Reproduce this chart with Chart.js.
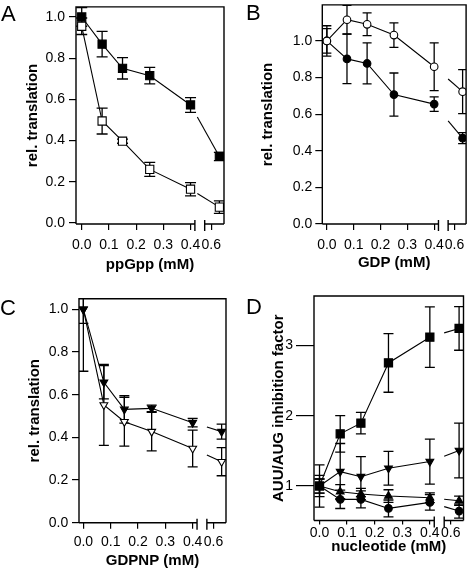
<!DOCTYPE html>
<html>
<head>
<meta charset="utf-8">
<script src="https://cdn.jsdelivr.net/npm/chart.js@4.4.0/dist/chart.umd.min.js"></script>
<style>
  body { margin: 0; background: #fff; }
  #wrap { position: relative; width: 471px; height: 570px; overflow: hidden; }
  canvas { position: absolute; }
  .lbl { position: absolute; font: 22px "Liberation Sans", Arial, sans-serif; line-height: 22px; color: #000; }
</style>
</head>
<body>
<div id="wrap">
  <canvas id="cA" width="235" height="285" style="left:0px;top:0px"></canvas>
  <canvas id="cB" width="236" height="285" style="left:235px;top:0px"></canvas>
  <canvas id="cC" width="235" height="285" style="left:0px;top:285px"></canvas>
  <canvas id="cD" width="236" height="285" style="left:235px;top:285px"></canvas>
  <div class="lbl" style="left:1px;top:3px">A</div>
  <div class="lbl" style="left:246px;top:2px">B</div>
  <div class="lbl" style="left:0px;top:297px">C</div>
  <div class="lbl" style="left:246px;top:296px">D</div>
</div>
<script>
// concentrations (mM); the last one sits after the axis break
const xConc = [0, 0.075, 0.15, 0.25, 0.4, 0.63];
const xTickVals = [0, 0.1, 0.2, 0.3, 0.4, 0.6];
const xTickLabels = ['0.0', '0.1', '0.2', '0.3', '0.4', '0.6'];
const relTicks = [0, 0.2, 0.4, 0.6, 0.8, 1.0];
const factorTicks = [1, 2, 3];

// A: ppGpp
const aFilled = [1.0, 0.868, 0.751, 0.715, 0.573, 0.323];
const aFilledErr = [0.045, 0.062, 0.052, 0.04, 0.036, 0.02];
const aOpen = [0.955, 0.495, 0.397, 0.26, 0.164, 0.077];
const aOpenErr = [0.04, 0.063, 0.01, 0.034, 0.032, 0.03];

// B: GDP
const bOpen = [1.0, 1.116, 1.091, 1.032, 0.859, 0.723];
const bOpenErr = [0.083, 0.078, 0.062, 0.067, 0.13, 0.12];
const bFilled = [1.0, 0.902, 0.877, 0.707, 0.655, 0.469];
const bFilledErr = [0.067, 0.135, 0.112, 0.118, 0.04, 0.03];

// C: GDPNP
const cFilled = [1.0, 0.658, 0.531, 0.536, 0.469, 0.427];
const cFilledErr = [0.066, 0.078, 0.064, 0.015, 0.02, 0.035];
const cOpen = [1.0, 0.552, 0.473, 0.427, 0.348, 0.286];
const cOpenErr = [0.29, 0.19, 0.114, 0.09, 0.086, 0.066];

// D: AUU/AUG inhibition factor
const dSquare = [1.0, 1.743, 1.895, 2.752, 3.119, 3.243];
const dSquareErr = [0.3, 0.26, 0.152, 0.417, 0.43, 0.31];
const dDown = [1.0, 1.205, 1.133, 1.252, 1.348, 1.505];
const dDownErr = [0.15, 0.4, 0.286, 0.24, 0.32, 0.39];
const dUp = [1.0, 0.919, 0.886, 0.857, 0.833, 0.79];
const dUpErr = [0.1, 0.1, 0.08, 0.09, 0.07, 0.067];
const dCircle = [1.0, 0.81, 0.81, 0.681, 0.767, 0.643];
const dCircleErr = [0.1, 0.13, 0.12, 0.12, 0.11, 0.1];

// broken x axis: values past the break are shifted left
const breakLo = 0.416, breakHi = 0.452;
function axisX(v) { return v < 0.45 ? v : v - 0.124; }

Chart.defaults.font.family = '"Liberation Sans", Arial, sans-serif';
Chart.defaults.font.size = 14;
Chart.defaults.color = '#000';

const errorBars = {
  id: 'errorBars',
  beforeDatasetsDraw(chart, args, opts) {
    const {ctx, chartArea: a, scales: {x, y}} = chart;
    const half = opts.cap / 2;
    ctx.save();
    ctx.beginPath();
    ctx.rect(a.left, a.top, a.right - a.left, a.bottom - a.top);
    ctx.clip();
    ctx.strokeStyle = '#000';
    ctx.lineWidth = 1.3;
    chart.data.datasets.forEach(ds => {
      ds.data.forEach((pt, i) => {
        const e = ds.errors[i];
        const px = x.getPixelForValue(pt.x);
        const y1 = y.getPixelForValue(pt.y + e);
        const y2 = y.getPixelForValue(pt.y - e);
        ctx.beginPath();
        ctx.moveTo(px, y1); ctx.lineTo(px, y2);
        ctx.moveTo(px - half, y1); ctx.lineTo(px + half, y1);
        ctx.moveTo(px - half, y2); ctx.lineTo(px + half, y2);
        ctx.stroke();
      });
    });
    ctx.restore();
  }
};

const frame = {
  id: 'frame',
  afterDraw(chart) {
    const {ctx, chartArea: a, scales: {x}} = chart;
    const x1 = x.getPixelForValue(breakLo);
    const x2 = x.getPixelForValue(breakHi);
    ctx.save();
    ctx.strokeStyle = '#000';
    ctx.lineWidth = 1.4;
    ctx.beginPath();
    ctx.moveTo(a.left, a.bottom); ctx.lineTo(a.left, a.top);
    ctx.lineTo(a.right, a.top); ctx.lineTo(a.right, a.bottom);
    ctx.moveTo(a.left, a.bottom); ctx.lineTo(x1, a.bottom);
    ctx.moveTo(x2, a.bottom); ctx.lineTo(a.right, a.bottom);
    ctx.moveTo(x1, a.bottom - 4); ctx.lineTo(x1, a.bottom + 7);
    ctx.moveTo(x2, a.bottom - 4); ctx.lineTo(x2, a.bottom + 7);
    ctx.stroke();
    ctx.restore();
  }
};

function makePanel(id, p) {
  const last = xConc.length - 1;
  const datasets = p.series.map(s => ({
    data: s.values.map((v, i) => ({x: axisX(xConc[i]), y: v})),
    errors: s.errors,
    borderColor: '#000',
    borderWidth: 1.1,
    pointStyle: s.style,
    rotation: s.rot || 0,
    pointRadius: s.r,
    pointHoverRadius: s.r,
    pointBackgroundColor: s.fill,
    pointBorderColor: '#000',
    pointBorderWidth: 1.1,
    segment: {
      borderDash: ctx => {
        if (ctx.p1DataIndex !== last) return undefined;
        const gx = ctx.chart.scales.x.getPixelForValue(p.gapEnd);
        const dx = ctx.p1.x - ctx.p0.x, dy = ctx.p1.y - ctx.p0.y;
        const len = Math.hypot(dx, dy);
        return [0, (gx - ctx.p0.x) / dx * len, len + 10];
      }
    }
  }));

  return new Chart(document.getElementById(id), {
    type: 'line',
    data: {datasets},
    options: {
      responsive: false,
      animation: false,
      events: [],
      layout: {padding: {top: p.area.t - p.box.y, right: p.box.x + p.box.w - p.area.r, left: 0, bottom: 0}},
      plugins: {
        legend: {display: false},
        tooltip: {enabled: false},
        errorBars: {cap: p.cap}
      },
      scales: {
        x: {
          type: 'linear',
          min: p.xMin, max: p.xMax,
          afterBuildTicks: s => { s.ticks = xTickVals.map(v => ({value: axisX(v)})); },
          afterFit: s => { s.height = p.box.y + p.box.h - p.area.b; s.paddingLeft = 0; s.paddingRight = 0; },
          ticks: {autoSkip: false, maxRotation: 0, padding: p.xTickPad, callback: (v, i) => xTickLabels[i]},
          grid: {drawOnChartArea: false, tickLength: p.xTickLen, color: '#000', lineWidth: 1.2},
          border: {display: false},
          title: {display: true, text: p.xTitle, font: {size: 15, weight: 'bold'}, padding: {top: 0, bottom: p.xTitlePad}}
        },
        y: {
          min: p.yMin, max: p.yMax,
          afterBuildTicks: s => { s.ticks = p.yTicks.map(v => ({value: v})); },
          afterFit: s => { s.width = p.area.l - p.box.x; s.paddingTop = 0; s.paddingBottom = 0; },
          ticks: {padding: p.yTickPad, callback: v => v.toFixed(p.yDigits)},
          grid: {drawOnChartArea: false, tickLength: p.yTickLen, color: '#000', lineWidth: 1.2},
          border: {display: false},
          title: {display: true, text: p.yTitle, font: {size: 15, weight: 'bold'}, padding: {top: p.yTitlePad, bottom: 0}}
        }
      }
    },
    plugins: [errorBars, frame]
  });
}

makePanel('cA', {
  box: {x: 0, y: 0, w: 235, h: 285}, area: {l: 76, t: 2, r: 224, b: 224},
  xMin: -0.021, xMax: 0.523, yMin: -0.005, yMax: 1.049, yTicks: relTicks, yDigits: 1,
  xTitle: 'ppGpp (mM)', yTitle: 'rel. translation',
  xTickLen: 6, xTickPad: 6.6, xTitlePad: 11, yTickLen: 7, yTickPad: 4, yTitlePad: 24,
  cap: 11, gapEnd: 0.425,
  series: [
    {values: aFilled, errors: aFilledErr, style: 'rect', r: 5.8, fill: '#000'},
    {values: aOpen, errors: aOpenErr, style: 'rect', r: 5.8, fill: '#fff'}
  ]
});

makePanel('cB', {
  box: {x: 235, y: 0, w: 236, h: 285}, area: {l: 322.3, t: 1, r: 469.5, b: 224},
  xMin: -0.017, xMax: 0.519, yMin: 0, yMax: 1.197, yTicks: relTicks, yDigits: 1,
  xTitle: 'GDP (mM)', yTitle: 'rel. translation',
  xTickLen: 6, xTickPad: 6.6, xTitlePad: 13, yTickLen: 7, yTickPad: 3, yTitlePad: 24,
  cap: 9, gapEnd: breakHi,
  series: [
    {values: bOpen, errors: bOpenErr, style: 'circle', r: 3.8, fill: '#fff'},
    {values: bFilled, errors: bFilledErr, style: 'circle', r: 3.8, fill: '#000'}
  ]
});

makePanel('cC', {
  box: {x: 0, y: 285, w: 235, h: 285}, area: {l: 79, t: 298.7, r: 226, b: 522.7},
  xMin: -0.016, xMax: 0.522, yMin: 0, yMax: 1.05, yTicks: relTicks, yDigits: 1,
  xTitle: 'GDPNP (mM)', yTitle: 'rel. translation',
  xTickLen: 6, xTickPad: 4.6, xTitlePad: 0, yTickLen: 7, yTickPad: 3.7, yTitlePad: 26,
  cap: 10, gapEnd: breakHi,
  series: [
    {values: cFilled, errors: cFilledErr, style: 'triangle', rot: 180, r: 4.5, fill: '#000'},
    {values: cOpen, errors: cOpenErr, style: 'triangle', rot: 180, r: 4.5, fill: '#fff'}
  ]
});

makePanel('cD', {
  box: {x: 235, y: 285, w: 236, h: 285}, area: {l: 314, t: 296, r: 463.5, b: 520.5},
  xMin: -0.02, xMax: 0.522, yMin: 0.509, yMax: 3.705, yTicks: factorTicks, yDigits: 0,
  xTitle: 'nucleotide (mM)', yTitle: 'AUU/AUG inhibition factor',
  xTickLen: 4, xTickPad: 0.5, xTitlePad: 14.3, yTickLen: 18, yTickPad: 3, yTitlePad: 34.5,
  cap: 10, gapEnd: breakHi,
  series: [
    {values: dCircle, errors: dCircleErr, style: 'circle', r: 3.8, fill: '#000'},
    {values: dUp, errors: dUpErr, style: 'triangle', r: 4.5, fill: '#000'},
    {values: dDown, errors: dDownErr, style: 'triangle', rot: 180, r: 4.5, fill: '#000'},
    {values: dSquare, errors: dSquareErr, style: 'rect', r: 5.8, fill: '#000'}
  ]
});
</script>
</body>
</html>
